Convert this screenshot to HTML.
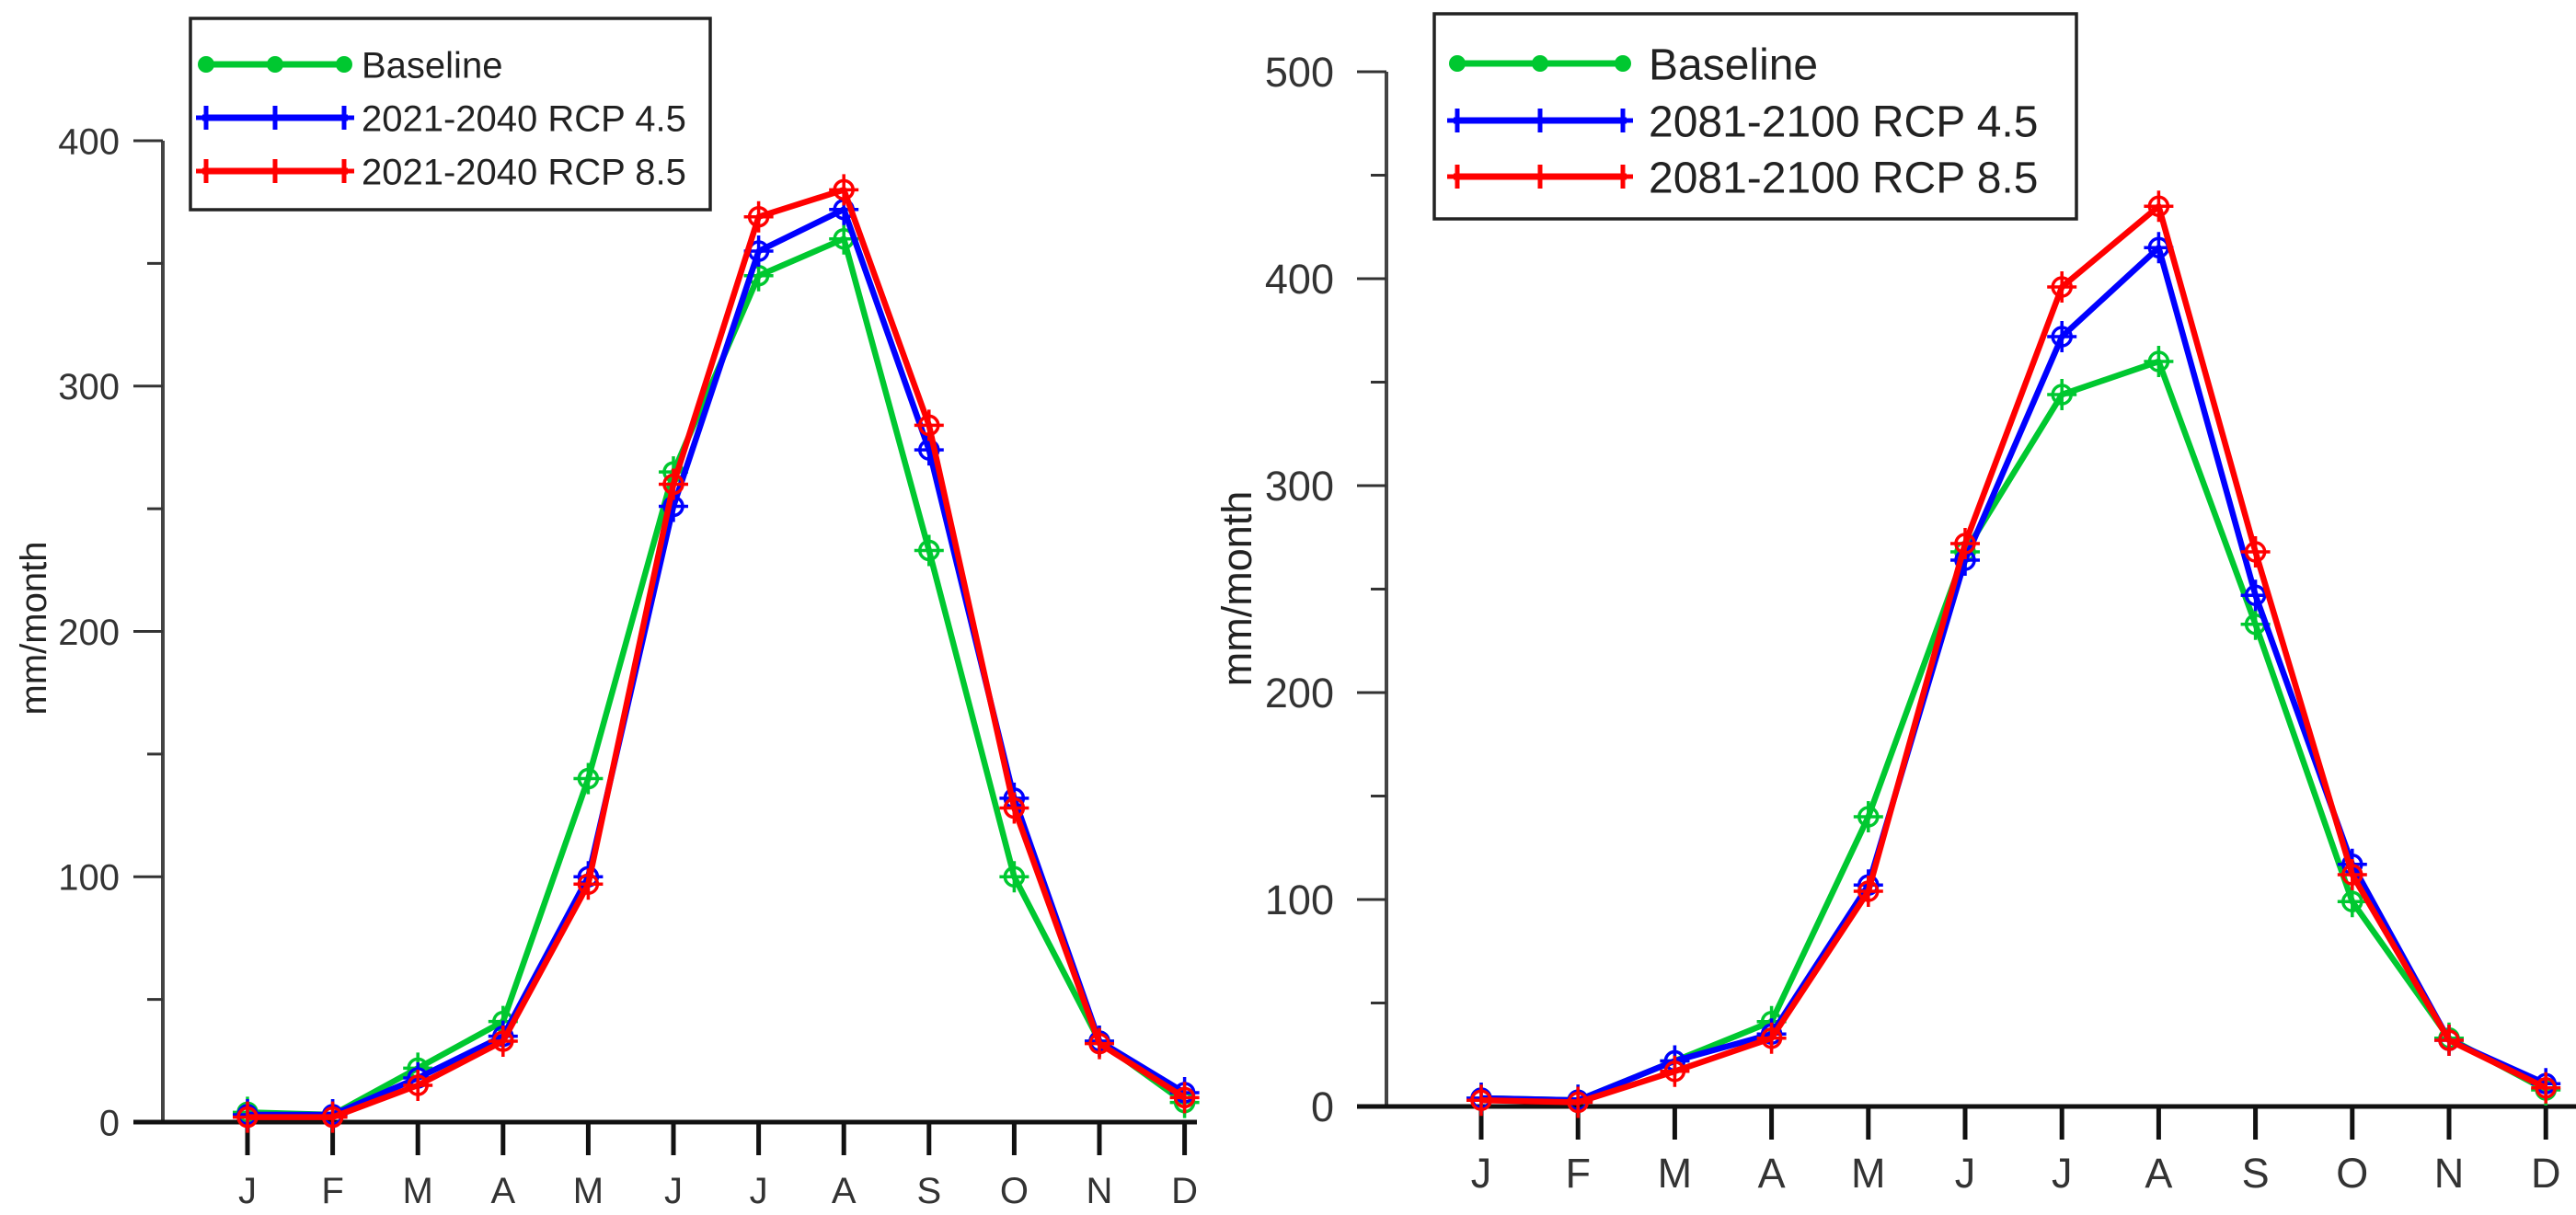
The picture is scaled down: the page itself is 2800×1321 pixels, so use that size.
<!DOCTYPE html>
<html><head><meta charset="utf-8"><style>
html,body{margin:0;padding:0;background:#fff;}
svg{display:block;font-family:"Liberation Sans",Arial,sans-serif;}
</style></head><body>
<svg id="c" width="2800" height="1321" viewBox="0 0 2800 1321"></svg>
<script>
const months = ["J","F","M","A","M","J","J","A","S","O","N","D"];
const leftBaseline = [4,3,22,41,140,265,345,360,233,100,33,8];
const leftRcp45 = [3,3,18,35,100,251,355,372,274,132,33,12];
const leftRcp85 = [2,2,15,33,97,260,369,380,284,128,32,10];
const leftTicks = [0,100,200,300,400];
const leftLabels = ["Baseline","2021-2040 RCP 4.5","2021-2040 RCP 8.5"];
const rightBaseline = [4,3,22,41,140,268,344,360,233,99,33,8];
const rightRcp45 = [4,3,22,35,107,264,372,415,247,117,32,11];
const rightRcp85 = [3,2,17,33,104,272,396,435,268,112,32,9];
const rightTicks = [0,100,200,300,400,500];
const rightLabels = ["Baseline","2081-2100 RCP 4.5","2081-2100 RCP 8.5"];
const colors = ["#00c830","#0000ff","#ff0000"];

const NS="http://www.w3.org/2000/svg";
const svg=document.getElementById('c');
function mk(tag,attrs,parent){const e=document.createElementNS(NS,tag);for(const k in attrs)e.setAttribute(k,attrs[k]);(parent||svg).appendChild(e);return e;}

function chart(cfg){
  const g=mk('g',{});
  
  
  const y=v=>cfg.y0-(v-0)/(cfg.ymax)*(cfg.y0-cfg.ytop);
  const x=i=>cfg.xJ+i*cfg.dx;
  const ya=mk('line',{x1:cfg.ax,y1:cfg.ytop,x2:cfg.ax,y2:cfg.y0,stroke:'#444','stroke-width':4},g);
  
  
  const step=cfg.ticks[1]-cfg.ticks[0];
  for(let t=0;t<=cfg.ymax;t+=step/2){
    const major=(t%step)===0;
    const tk=mk('line',{x1:major?cfg.ax-32:cfg.ax-17,y1:y(t),x2:cfg.ax,y2:y(t),stroke:'#333','stroke-width':3},g);
    
    
  }
  cfg.ticks.forEach(t=>{
    const tx=mk('text',{x:cfg.labelRight,y:y(t)+cfg.fs*0.36,'text-anchor':'end','font-size':cfg.fs,fill:'#333'},g);
    tx.textContent=t;
    
    
  });
  const yt=mk('text',{x:0,y:0,transform:`translate(${cfg.titleX},${cfg.titleY}) rotate(-90)`,'text-anchor':'middle','font-size':cfg.fs,fill:'#222'},g);
  yt.textContent='mm/month';
  
  
  const xa=mk('line',{x1:cfg.ax-32,y1:cfg.y0,x2:cfg.xEnd,y2:cfg.y0,stroke:'#111','stroke-width':5},g);
  
  
  months.forEach((m,i)=>{
    const tk=mk('line',{x1:x(i),y1:cfg.y0,x2:x(i),y2:cfg.y0+36,stroke:'#111','stroke-width':5},g);
    
    
    const tx=mk('text',{x:x(i),y:cfg.y0+88,'text-anchor':'middle','font-size':cfg.fs,fill:'#333'},g);
    tx.textContent=m;
    
    
  });
  cfg.series.forEach((s,si)=>{
    const sg=mk('g',{},g);
    
    
    const pts=s.map((v,i)=>x(i)+','+y(v)).join(' ');
    const pl=mk('polyline',{points:pts,fill:'none',stroke:colors[si],'stroke-width':6.5,'stroke-linejoin':'round'},sg);
    
    
    s.forEach((v,i)=>{
      const cx=x(i),cy=y(v);
      const c=mk('circle',{cx:cx,cy:cy,r:10,fill:'none',stroke:colors[si],'stroke-width':3.5},sg);
      
      
      mk('path',{d:`M${cx-16},${cy}H${cx+16}M${cx},${cy-17}V${cy+17}`,stroke:colors[si],'stroke-width':3.5},sg);
    });
  });
  const L=cfg.legend;
  const lg=mk('g',{},g);
  
  
  mk('rect',{x:L.x,y:L.y,width:L.w,height:L.h,fill:'#fff',stroke:'#222','stroke-width':3.5},lg);
  cfg.labels.forEach((lab,i)=>{
    const ry=L.rows[i];
    const eg=mk('g',{},lg);
    
    
    mk('line',{x1:L.lx1,y1:ry,x2:L.lx2,y2:ry,stroke:colors[i],'stroke-width':7},eg);
    [L.lx1+4,(L.lx1+L.lx2)/2,L.lx2-4].forEach(px=>{
      if(i===0) mk('circle',{cx:px,cy:ry,r:9,fill:colors[i]},eg);
      else mk('path',{d:`M${px-11},${ry}H${px+11}M${px},${ry-13}V${ry+13}`,stroke:colors[i],'stroke-width':5},eg);
    });
    const t=mk('text',{x:L.tx,y:ry+L.fs*0.36,'font-size':L.fs,fill:'#222'},eg);
    t.textContent=lab;
  });
}

chart({name:'left-chart',ax:177,y0:1220,ytop:153,ymax:400,ticks:leftTicks,xJ:269,dx:92.6,xEnd:1301,
  labelRight:130,fs:40,titleX:50,titleY:683,
  series:[leftBaseline,leftRcp45,leftRcp85],labels:leftLabels,
  legend:{x:207,y:20,w:565,h:208,rows:[70,128,186],lx1:220,lx2:378,tx:393,fs:40}});
chart({name:'right-chart',ax:1507,y0:1203,ytop:78,ymax:500,ticks:rightTicks,xJ:1610,dx:105.2,xEnd:2800,
  labelRight:1450,fs:45,titleX:1360,titleY:640,
  series:[rightBaseline,rightRcp45,rightRcp85],labels:rightLabels,
  legend:{x:1559,y:15,w:698,h:223,rows:[69,131,192],lx1:1580,lx2:1768,tx:1792,fs:48}});
</script>
</body></html>
